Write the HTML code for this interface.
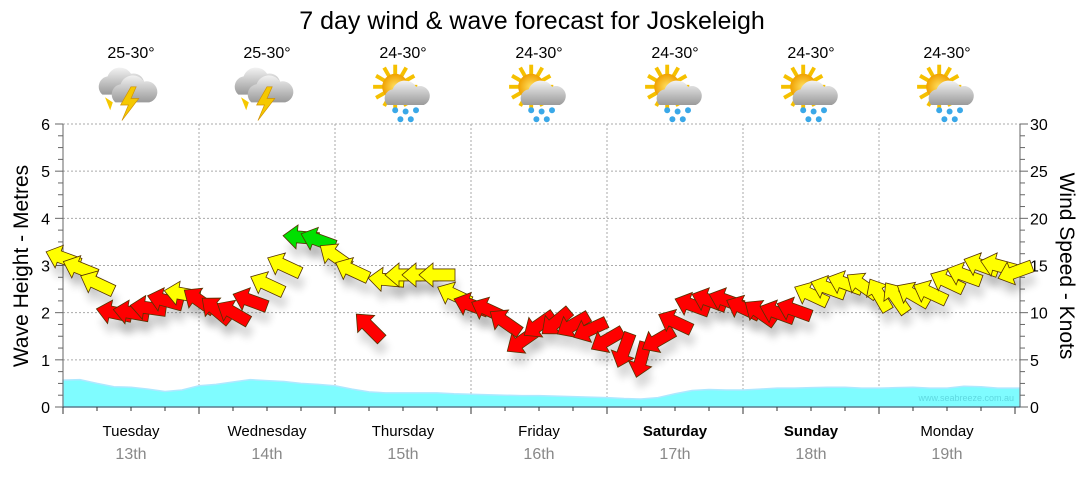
<!DOCTYPE html>
<html><head><meta charset="utf-8"><style>
body{margin:0;background:#fff;}
svg text{font-family:"Liberation Sans","DejaVu Sans",sans-serif;}
</style></head><body>
<svg id="c" width="1080" height="475" xmlns="http://www.w3.org/2000/svg">
<defs>
<filter id="sh" x="-50%" y="-50%" width="200%" height="200%"><feGaussianBlur stdDeviation="4"/></filter>
<radialGradient id="sun" cx="0.5" cy="0.5" r="0.5"><stop offset="0" stop-color="#ffe060"/><stop offset="1" stop-color="#f0a000"/></radialGradient>
<linearGradient id="cloud" x1="0" y1="0" x2="0" y2="1"><stop offset="0" stop-color="#f2f2f2"/><stop offset="1" stop-color="#9a9a9a"/></linearGradient>
</defs>
<text x="532" y="29" font-size="25" text-anchor="middle" fill="#000">7 day wind &amp; wave forecast for Joskeleigh</text>
<g id="grid"></g><g id="wave"></g><g id="axes"></g><g id="icons"></g><g id="arrows"></g>
<text x="28" y="266" font-size="21" text-anchor="middle" transform="rotate(-90 28 266)">Wave Height - Metres</text>
<text x="1060" y="266" font-size="21" text-anchor="middle" transform="rotate(90 1060 266)">Wind Speed - Knots</text>
<text x="1014" y="401" font-size="9" text-anchor="end" fill="#5fd8e0">www.seabreeze.com.au</text>
</svg>
<script>
const days=["Tuesday","Wednesday","Thursday","Friday","Saturday","Sunday","Monday"];
const dates=["13th","14th","15th","16th","17th","18th","19th"];
const temps=["25-30°","25-30°","24-30°","24-30°","24-30°","24-30°","24-30°"];
const icons=["storm","storm","sunrain","sunrain","sunrain","sunrain","sunrain"];
const boldDays=[false,false,false,false,true,true,false];
const waveTicks=[0,1,2,3,4,5,6];
const windTicks=[0,5,10,15,20,25,30];
const windKnots=[15.8,14.7,13.1,10,10,10.5,11.3,12,11.3,10.3,10,11.3,13,15,18,17.7,16,14.5,8.5,13.5,14,14,14,11.9,10.8,10.3,9,7,8.7,9,8.7,8.2,7.1,6,5,7.1,9,10.8,11.3,11.3,10.5,10,10,10.3,11.9,12.6,13.1,12.9,11.9,11.6,11.9,12.1,13.3,14,15,15,14.3];
const windDir=[200,202,205,192,190,188,195,190,215,220,210,200,205,205,185,200,215,205,225,185,180,180,180,205,200,205,215,145,145,140,150,155,150,110,105,150,205,200,200,200,205,215,200,200,205,200,200,215,240,235,210,205,205,200,200,195,160];
const waveM=[0.57,0.58,0.5,0.43,0.42,0.38,0.33,0.36,0.45,0.48,0.53,0.58,0.56,0.54,0.5,0.48,0.45,0.38,0.32,0.3,0.3,0.3,0.3,0.28,0.27,0.26,0.25,0.24,0.24,0.23,0.22,0.21,0.2,0.18,0.17,0.2,0.28,0.35,0.37,0.36,0.36,0.38,0.4,0.4,0.41,0.42,0.42,0.4,0.4,0.41,0.42,0.4,0.4,0.44,0.43,0.4,0.4];
const NS="http://www.w3.org/2000/svg";
const X0=63,X1=1015,YT=124,YB=407,DW=(X1-X0)/7,STEP=DW/8;
const yM=v=>YB-(v/6)*(YB-YT);
const yK=v=>YB-(v/30)*(YB-YT);
const xI=i=>X0+i*STEP;
function mk(tag,attrs,parent){const e=document.createElementNS(NS,tag);for(const k in attrs)e.setAttribute(k,attrs[k]);parent.appendChild(e);return e;}
const grid=document.getElementById('grid'),axes=document.getElementById('axes'),wave=document.getElementById('wave'),ic=document.getElementById('icons'),ar=document.getElementById('arrows');
waveTicks.forEach(t=>{if(t>0){const l=mk('line',{x1:X0,x2:1020,y1:yM(t),y2:yM(t),stroke:'#aaa','stroke-dasharray':'2,2'},grid);}
const tx=mk('text',{x:50,y:yM(t)+6,'font-size':16,'text-anchor':'end'},axes);tx.textContent=t;});
windTicks.forEach(t=>{const tx=mk('text',{x:1030,y:yK(t)+6,'font-size':16},axes);tx.textContent=t;});
for(let v=0;v<=24;v++){const y=yM(v/4);mk('line',{x1:X0-(v%4?5:8),x2:X0,y1:y,y2:y,stroke:'#666'},axes);mk('line',{x1:1020,x2:1020+(v%4?5:8),y1:y,y2:y,stroke:'#666'},axes);}
mk('line',{x1:X0,x2:X0,y1:YT,y2:YB,stroke:'#666'},axes);mk('line',{x1:1020,x2:1020,y1:YT,y2:YB,stroke:'#666'},axes);
mk('line',{x1:X0,x2:1020,y1:YB,y2:YB,stroke:'#345'},axes);
for(let i=0;i<=28;i++){const x=X0+i*DW/4;mk('line',{x1:x,x2:x,y1:YB,y2:YB+(i%4?4:7),stroke:'#333'},axes);}
days.forEach((d,i)=>{const cx=X0+DW*(i+0.5);
if(i>0){const l=mk('line',{x1:X0+DW*i,x2:X0+DW*i,y1:YT,y2:YB,stroke:'#aaa','stroke-dasharray':'2,2'},grid);}
const t=mk('text',{x:cx,y:436,'font-size':15,'text-anchor':'middle','font-weight':boldDays[i]?'bold':'normal'},axes);t.textContent=d;
const t2=mk('text',{x:cx,y:459,'font-size':16,'text-anchor':'middle',fill:'#888'},axes);t2.textContent=dates[i];
const t3=mk('text',{x:cx,y:58,'font-size':16,'text-anchor':'middle'},ic);t3.textContent=temps[i];
const g=mk('g',{transform:`translate(${cx},92) scale(1.3)`},ic);
if(icons[i]=="storm"){
mk('path',{d:'M-22,2 a8,8 0 0 1 4,-14 a10,10 0 0 1 18,-2 a8,8 0 0 1 4,16 z',fill:'url(#cloud)'},g);
mk('path',{d:'M-12,8 a8,8 0 0 1 4,-14 a10,10 0 0 1 18,-2 a8,8 0 0 1 4,16 z',fill:'url(#cloud)'},g);
mk('path',{d:'M0,-4 L-8,10 L-2,10 L-7,22 L6,5 L0,5 L4,-4 z',fill:'#f5c800',stroke:'#d09000','stroke-width':0.5},g);
mk('path',{d:'M-20,4 L-16,14 L-14,8 z',fill:'#f5c800'},g);}
else{
for(let k=0;k<12;k++){const a=k*Math.PI/6;mk('line',{x1:-6+Math.cos(a)*8,y1:-4+Math.sin(a)*8,x2:-6+Math.cos(a)*17,y2:-4+Math.sin(a)*17,stroke:'#f5c000','stroke-width':3},g);}
mk('circle',{cx:-6,cy:-4,r:10,fill:'url(#sun)'},g);
mk('path',{d:'M-12,10 a7,7 0 0 1 4,-12 a10,10 0 0 1 18,-2 a7,7 0 0 1 6,14 z',fill:'url(#cloud)'},g);
[[-6,14],[2,15],[10,14],[-2,21],[6,21]].forEach(p=>mk('circle',{cx:p[0],cy:p[1],r:2.3,fill:'#3aa8e8'},g));}
});
let pts=`M${X0},${YB} `+waveM.map((v,i)=>`L${xI(i)},${yM(v)}`).join(' ')+` L${xI(waveM.length-1)+5},${yM(waveM[waveM.length-1])} L${xI(waveM.length-1)+5},${YB} Z`;
const wp=mk('path',{d:pts,fill:'#7ffcff',stroke:'#aee8ff','stroke-width':1.5},wave);
const shp='M-18,-6 L4,-6 L4,-12 L18,0 L4,12 L4,6 L-18,6 Z';
windKnots.forEach((k,i)=>{const x=xI(i),y=yK(k);
mk('path',{d:shp,transform:`translate(${x+3},${y+12}) rotate(${windDir[i]})`,fill:'#000',opacity:0.15,filter:'url(#sh)'},ar);});
windKnots.forEach((k,i)=>{const x=xI(i),y=yK(k);
const col=k<11.5?'#ff0000':(k<17.5?'#ffff00':'#00e000');
const a=mk('path',{d:shp,transform:`translate(${x},${y}) rotate(${windDir[i]})`,fill:col,stroke:'#553300','stroke-width':0.8},ar);

});
</script>
</body></html>
